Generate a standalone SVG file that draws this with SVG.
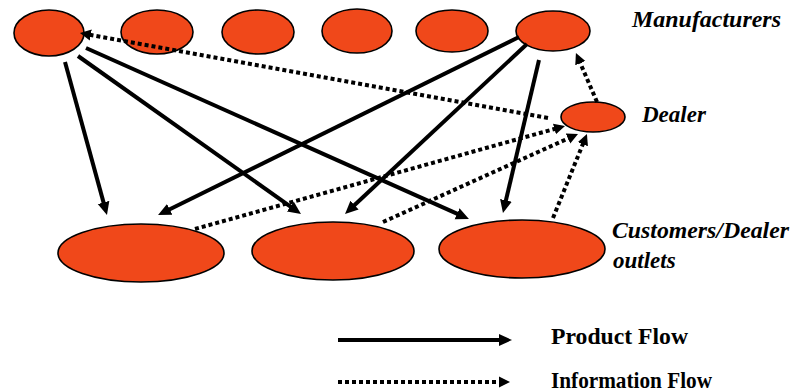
<svg xmlns="http://www.w3.org/2000/svg" width="796" height="392" viewBox="0 0 796 392">
  <style>
    .node { fill: #F0481A; stroke: #000; stroke-width: 1.6; }
    .product { fill: none; stroke: #000; stroke-width: 4; marker-end: url(#head); }
    .info { fill: none; stroke: #000; stroke-width: 4; stroke-dasharray: 4 3; marker-end: url(#headSmall); }
    .label { font-family: 'Liberation Serif', serif; font-weight: bold; font-size: 23px; fill: #000; }
    .italic { font-style: italic; }
    .legend-text { font-size: 24px; }
  </style>
  <defs>
    <marker id="head" markerUnits="userSpaceOnUse" markerWidth="16" markerHeight="14" viewBox="0 -7 16 14" refX="1" refY="0" orient="auto">
      <path d="M0,-6 L13,0 L0,6 z" fill="#000"/>
    </marker>
    <marker id="headSmall" markerUnits="userSpaceOnUse" markerWidth="14" markerHeight="14" viewBox="0 -7 14 14" refX="1" refY="0" orient="auto">
      <path d="M0,-5.5 L11,0 L0,5.5 z" fill="#000"/>
    </marker>
  </defs>
  <rect width="796" height="392" fill="#fff"/>

  <!-- manufacturers -->
  <g id="manufacturer-1"><ellipse class="node" cx="49" cy="33" rx="35" ry="23"/></g>
  <g id="manufacturer-2"><ellipse class="node" cx="157" cy="32" rx="36" ry="22"/></g>
  <g id="manufacturer-3"><ellipse class="node" cx="258" cy="32" rx="36" ry="22"/></g>
  <g id="manufacturer-4"><ellipse class="node" cx="357" cy="31" rx="35" ry="22"/></g>
  <g id="manufacturer-5"><ellipse class="node" cx="452" cy="31" rx="36" ry="21"/></g>
  <g id="manufacturer-6"><ellipse class="node" cx="553" cy="31" rx="37" ry="20"/></g>

  <!-- dealer -->
  <g id="dealer"><ellipse class="node" cx="593" cy="117" rx="32" ry="15"/></g>

  <!-- customers / dealer outlets -->
  <g id="outlet-1"><ellipse class="node" cx="141" cy="253" rx="83" ry="29"/></g>
  <g id="outlet-2"><ellipse class="node" cx="333" cy="251" rx="81" ry="29"/></g>
  <g id="outlet-3"><ellipse class="node" cx="522" cy="249" rx="83" ry="29"/></g>

  <!-- flows -->
  <g id="connectors">
    <line class="product" x1="65" y1="62" x2="103.8" y2="203.4"/>
    <line class="product" x1="78" y1="56" x2="291.2" y2="207.1"/>
    <line class="product" x1="86" y1="48" x2="458" y2="214.1"/>
    <line class="product" x1="519" y1="37" x2="168.8" y2="209.7"/>
    <line class="product" x1="527" y1="44" x2="353.8" y2="205.8"/>
    <line class="product" x1="539" y1="60" x2="505.7" y2="201.3"/>

    <line class="info" x1="548" y1="118" x2="89.8" y2="34.8"/>
    <line class="info" x1="195" y1="229" x2="555.4" y2="128.7"/>
    <line class="info" x1="383" y1="222" x2="568.9" y2="138.1"/>
    <line class="info" x1="553" y1="218" x2="583.2" y2="143.3"/>
    <line class="info" x1="597" y1="102" x2="579.9" y2="62.2"/>
  </g>

  <!-- tier labels -->
  <text class="label italic" x="632" y="27" textLength="149" lengthAdjust="spacingAndGlyphs">Manufacturers</text>
  <text class="label italic" x="642" y="122">Dealer</text>
  <text class="label italic" x="612" y="238" font-size="24" textLength="177" lengthAdjust="spacingAndGlyphs">Customers/Dealer</text>
  <text class="label italic" x="613" y="268" font-size="24">outlets</text>

  <!-- legend -->
  <g id="legend">
    <line class="product" x1="338" y1="340" x2="500" y2="340"/>
    <text class="label legend-text" x="551" y="344" textLength="137" lengthAdjust="spacingAndGlyphs">Product Flow</text>
    <line class="info" x1="338" y1="382" x2="500" y2="382"/>
    <text class="label legend-text" x="551" y="388" textLength="161" lengthAdjust="spacingAndGlyphs">Information Flow</text>
  </g>
</svg>
